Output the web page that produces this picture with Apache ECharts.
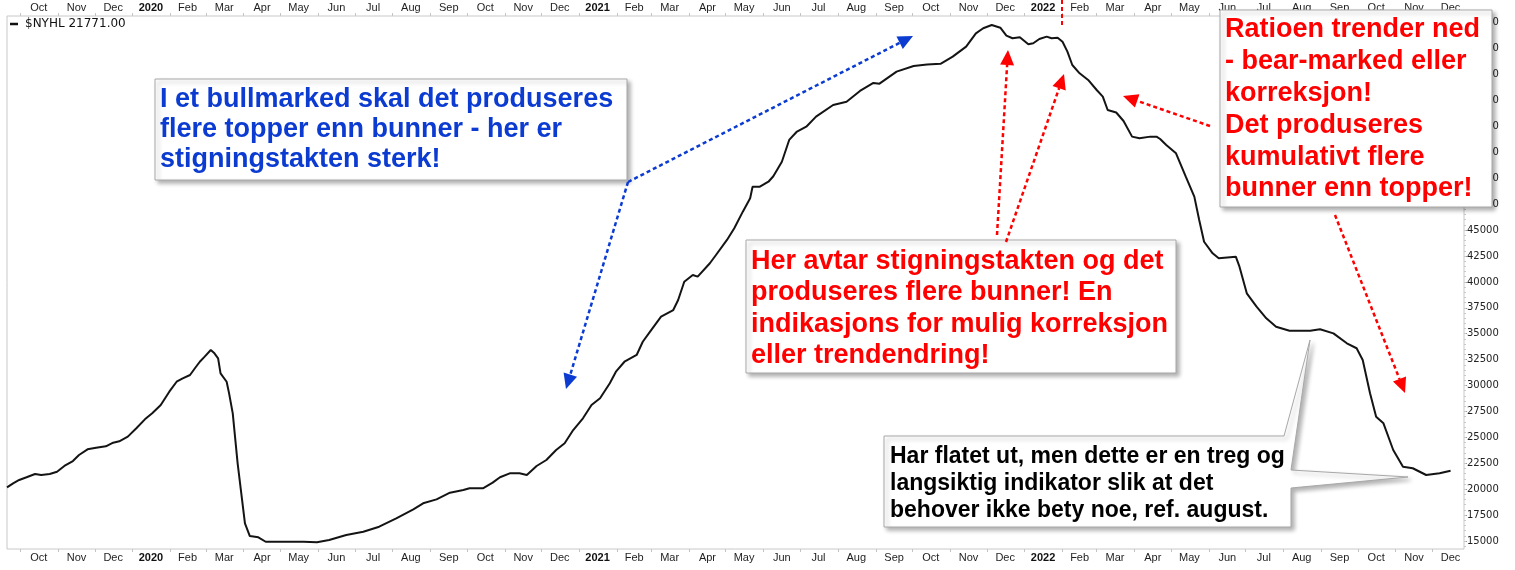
<!DOCTYPE html>
<html>
<head>
<meta charset="utf-8">
<script src="https://cdn.jsdelivr.net/npm/echarts@6/dist/echarts.min.js"></script>
<style>
  html, body { margin: 0; padding: 0; background: #fff; }
  #chart { width: 1515px; height: 570px; }
</style>
</head>
<body>
<div id="chart"></div>
<script>
// NYSE cumulative new highs minus new lows ($NYHL), Sep 2019 - Dec 2022
const seriesName = '$NYHL';
const lastValue = 21771;

const dates = [
  '2019-09-20','2019-09-25','2019-09-30','2019-10-06','2019-10-13','2019-10-18','2019-10-25','2019-10-31','2019-11-06','2019-11-13',
  '2019-11-18','2019-11-25','2019-12-02','2019-12-10','2019-12-16','2019-12-21','2019-12-28','2020-01-04','2020-01-11','2020-01-17',
  '2020-01-24','2020-01-31','2020-02-06','2020-02-11','2020-02-17','2020-02-21','2020-02-25','2020-02-29','2020-03-05','2020-03-08',
  '2020-03-11','2020-03-13','2020-03-18','2020-03-20','2020-03-23','2020-03-27','2020-04-02','2020-04-06','2020-04-13','2020-04-19',
  '2020-05-01','2020-05-20','2020-05-31','2020-06-10','2020-06-24','2020-07-08','2020-07-21','2020-08-04','2020-08-18','2020-08-26',
  '2020-09-06','2020-09-17','2020-09-28','2020-10-03','2020-10-14','2020-10-22','2020-10-28','2020-11-05','2020-11-13','2020-11-19',
  '2020-11-27','2020-12-05','2020-12-13','2020-12-20','2020-12-27','2021-01-04','2021-01-11','2021-01-18','2021-01-26','2021-01-31',
  '2021-02-07','2021-02-17','2021-02-22','2021-02-28','2021-03-09','2021-03-19','2021-03-23','2021-03-28','2021-04-04','2021-04-08',
  '2021-04-18','2021-04-23','2021-05-02','2021-05-08','2021-05-15','2021-05-21','2021-05-23','2021-05-29','2021-06-05','2021-06-09',
  '2021-06-16','2021-06-22','2021-06-28','2021-07-06','2021-07-14','2021-07-28','2021-08-08','2021-08-19','2021-08-30','2021-09-04',
  '2021-09-18','2021-10-02','2021-10-13','2021-10-24','2021-11-03','2021-11-14','2021-11-22','2021-11-28','2021-12-05','2021-12-12',
  '2021-12-17','2021-12-22','2021-12-28','2022-01-04','2022-01-08','2022-01-13','2022-01-19','2022-01-23','2022-01-28','2022-02-01',
  '2022-02-05','2022-02-09','2022-02-15','2022-02-22','2022-03-01','2022-03-06','2022-03-10','2022-03-17','2022-03-23','2022-03-30',
  '2022-04-05','2022-04-14','2022-04-19','2022-04-22','2022-04-27','2022-05-05','2022-05-13','2022-05-20','2022-05-24','2022-05-28',
  '2022-06-04','2022-06-09','2022-06-23','2022-06-26','2022-07-02','2022-07-10','2022-07-18','2022-07-26','2022-08-06','2022-08-23',
  '2022-08-31','2022-09-11','2022-09-22','2022-09-30','2022-10-05','2022-10-11','2022-10-16','2022-10-22','2022-10-30','2022-11-07',
  '2022-11-15','2022-11-26','2022-12-07','2022-12-16'
];

const values = [
  20180,20570,20890,21150,21470,21370,21470,21690,22240,22720,
  23300,23850,24000,24140,24490,24620,25070,25880,26740,27320,
  28120,29410,30370,30700,31020,31670,32300,32790,33430,33110,
  32630,31180,30370,29250,27320,22500,16710,15480,15360,14930,
  14930,14930,14880,15100,15580,15900,16380,17190,18060,18640,
  19020,19660,19920,20090,20090,20630,21150,21530,21530,21370,
  22240,22820,23780,24430,25710,26840,28120,28770,30220,31340,
  32300,32950,34230,35200,36650,37290,38260,40020,40670,40510,
  41800,42600,44050,45180,46780,48070,49190,49190,49670,50200,
  51600,53700,54470,54980,55950,57070,57390,58430,59200,59130,
  60290,60840,60980,61050,61740,62700,63990,64480,64790,64530,
  63760,63510,63610,62930,63030,63440,63670,63510,63570,63180,
  62220,60930,60130,59490,58520,57880,56590,56350,55530,54020,
  53860,54020,54020,53790,53210,52410,50160,48230,45980,43880,
  42760,42280,42440,41470,38900,37610,36490,35680,35290,35290,
  35430,35040,34080,33600,32470,29250,27000,26360,23780,22170,
  22020,21370,21530,lastValue
];

// Axis range and tick labels
const xStart = '2019-09-20';
const xEnd = '2022-12-27';
const yMin = 14230;
const yMax = 65660;
const yTickLabels = [15000,17500,20000,22500,25000,27500,30000,32500,35000,37500,40000,
                     42500,45000,47500,50000,52500,55000,57500,60000,62500,65000];
const monthNames = ['Jan','Feb','Mar','Apr','May','Jun','Jul','Aug','Sep','Oct','Nov','Dec'];

function ts(s) {
  const p = s.split('-').map(Number);
  return new Date(p[0], p[1] - 1, p[2]).getTime();
}

const axisMonths = [];   // [year, monthIndex] of every labelled month
for (let y = 2019, m = 9; y < 2023; ) {
  axisMonths.push([y, m]);
  m++; if (m > 11) { m = 0; y++; }
}
const monthStarts = axisMonths.map(([y, m]) => new Date(y, m, 1).getTime());
const monthMids = axisMonths.map(([y, m]) => new Date(y, m, m === 1 ? 15 : 16).getTime());
const yMinorTicks = [];
for (let v = 14500; v <= 65500; v += 500) yMinorTicks.push(v);

const narrow = '"Liberation Sans Narrow", "Arial Narrow", "Liberation Sans", Arial, sans-serif';
const bold = '"Liberation Sans", Arial, sans-serif';

function monthLabel(val) {
  const d = new Date(val);
  const m = d.getMonth();
  return m === 0 ? '{yr|' + d.getFullYear() + '}' : monthNames[m];
}

function dateAxis(position) {
  return {
    type: 'value',
    position: position,
    min: ts(xStart),
    max: ts(xEnd),
    scale: true,
    axisLine: { show: false },
    splitLine: { show: false },
    axisTick: { show: true, customValues: monthStarts, length: 3, lineStyle: { color: '#c4c4c4' } },
    axisLabel: {
      customValues: monthMids,
      formatter: monthLabel,
      margin: 3,
      fontFamily: narrow,
      fontSize: 11,
      color: '#1e1e1e',
      hideOverlap: false,
      rich: { yr: { fontFamily: narrow, fontSize: 11, fontWeight: 'bold', color: '#111' } }
    }
  };
}

// Annotation helpers
function box(x, y, w, h) {
  return {
    type: 'rect', z: 100,
    shape: { x: x, y: y, width: w, height: h },
    style: { fill: '#fff', stroke: '#a8a8a8', lineWidth: 1,
             shadowBlur: 4, shadowOffsetX: 3, shadowOffsetY: 3, shadowColor: 'rgba(0,0,0,0.3)' }
  };
}
function textBlock(x, y, lines, color, size, lineHeight) {
  return {
    type: 'text', z: 101, x: x, y: y,
    style: { text: lines.join('\n'), fill: color, font: 'bold ' + size + 'px ' + bold,
             lineHeight: lineHeight, verticalAlign: 'top', align: 'left' }
  };
}
function arrow(x1, y1, x2, y2, color) {
  const dx = x2 - x1, dy = y2 - y1, len = Math.hypot(dx, dy);
  const ux = dx / len, uy = dy / len, hl = 15, hw = 7;
  const bx = x2 - ux * hl, by = y2 - uy * hl;
  return [
    { type: 'line', z: 102, shape: { x1: x1, y1: y1, x2: bx, y2: by },
      style: { stroke: color, lineWidth: 2.5, lineDash: [4, 3] } },
    { type: 'polygon', z: 102,
      shape: { points: [[x2, y2], [bx - uy * hw, by + ux * hw], [bx + uy * hw, by - ux * hw]] },
      style: { fill: color } }
  ];
}

const blue = '#0b3bd0';
const red = '#ff0000';

const graphics = [
  // legend
  { type: 'line', z: 50, shape: { x1: 10, y1: 24, x2: 18, y2: 24 }, style: { stroke: '#111', lineWidth: 2.5 } },
  { type: 'text', z: 50, x: 25, y: 24,
    style: { text: seriesName + ' ' + lastValue.toFixed(2), fill: '#111', font: '12px "DejaVu Sans", Verdana, sans-serif', verticalAlign: 'middle' } },
  // marker at the start of February 2022
  { type: 'line', z: 99, shape: { x1: 1062, y1: 0, x2: 1062, y2: 25 }, style: { stroke: red, lineWidth: 2, lineDash: [4, 3] } },

  box(155, 79, 472, 101),
  textBlock(160, 85, ['I et bullmarked skal det produseres', 'flere topper enn bunner - her er', 'stigningstakten sterk!'], blue, 27, 30),
  ...arrow(628, 182, 566, 389, blue),
  ...arrow(628, 182, 913, 36, blue),

  box(746, 240, 430, 133),
  textBlock(751, 246, ['Her avtar stigningstakten og det', 'produseres flere bunner! En', 'indikasjons for mulig korreksjon', 'eller trendendring!'], red, 27, 31.3),
  ...arrow(997, 235, 1008, 50, red),
  ...arrow(1006, 242, 1064, 74, red),

  box(1220, 10, 272, 197),
  textBlock(1225, 14, ['Ratioen trender ned', '- bear-marked eller', 'korreksjon!', 'Det produseres', 'kumulativt flere', 'bunner enn topper!'], red, 27, 31.8),
  ...arrow(1210, 126, 1123, 96, red),
  ...arrow(1335, 215, 1405, 393, red),

  // callout with two pointers
  { type: 'polygon', z: 100,
    shape: { points: [[884, 436], [1284, 436], [1310, 340], [1291, 470], [1408, 477], [1291, 488], [1291, 527], [884, 527]] },
    style: { fill: '#fff', stroke: '#a8a8a8', lineWidth: 1,
             shadowBlur: 4, shadowOffsetX: 3, shadowOffsetY: 3, shadowColor: 'rgba(0,0,0,0.3)' } },
  textBlock(890, 443, ['Har flatet ut, men dette er en treg og', 'langsiktig indikator slik at det', 'behover ikke bety noe, ref. august.'], '#000', 23, 27)
];

const chart = echarts.init(document.getElementById('chart'), null, { renderer: 'canvas' });
chart.setOption({
  animation: false,
  backgroundColor: '#fff',
  grid: { left: 7, right: 51, top: 16, bottom: 21, show: true, borderColor: '#c8c8c8', borderWidth: 1 },
  xAxis: [dateAxis('bottom'), dateAxis('top')],
  yAxis: [
    {
      type: 'value', position: 'right', min: yMin, max: yMax,
      axisLine: { show: false },
      splitLine: { show: false },
      axisTick: { show: true, customValues: yTickLabels, length: 3, lineStyle: { color: '#999' } },
      axisLabel: { customValues: yTickLabels, formatter: (v) => String(v), margin: 3,
                   fontFamily: '"DejaVu Sans", Verdana, sans-serif', fontSize: 10, color: '#222' }
    },
    {
      type: 'value', position: 'right', min: yMin, max: yMax,
      axisLine: { show: false },
      splitLine: { show: false },
      axisLabel: { show: false },
      axisTick: { show: true, customValues: yMinorTicks, length: 2, lineStyle: { color: '#c8c8c8' } }
    }
  ],
  series: [{
    type: 'line',
    name: seriesName,
    xAxisIndex: 0,
    yAxisIndex: 0,
    data: dates.map((d, i) => [ts(d), values[i]]),
    showSymbol: false,
    smooth: false,
    lineStyle: { color: '#141414', width: 2 }
  }],
  graphic: graphics
});
</script>
</body>
</html>
